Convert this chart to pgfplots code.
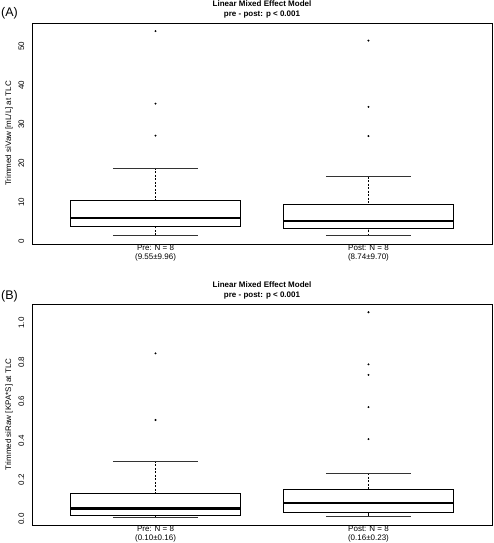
\documentclass[border=0pt]{standalone}
\usepackage{fontspec}
\setmainfont{Liberation Sans}
\usepackage{pgfplots}
\pgfplotsset{compat=1.18}
\usepgfplotslibrary{statistics}
\pgfplotsset{
  boxplot/draw/lower whisker/.code={%
    \draw[black, line width=0.7pt, dash pattern=on 2pt off 1.5pt]
      (boxplot box cs:\pgfplotsboxplotvalue{lower whisker},0.5) --
      (boxplot box cs:\pgfplotsboxplotvalue{lower quartile},0.5);
    \draw[black!80, line width=0.8pt, solid]
      (boxplot whisker cs:\pgfplotsboxplotvalue{lower whisker},0) --
      (boxplot whisker cs:\pgfplotsboxplotvalue{lower whisker},1);
  },
  boxplot/draw/upper whisker/.code={%
    \draw[black, line width=0.7pt, dash pattern=on 2pt off 1.5pt]
      (boxplot box cs:\pgfplotsboxplotvalue{upper whisker},0.5) --
      (boxplot box cs:\pgfplotsboxplotvalue{upper quartile},0.5);
    \draw[black!80, line width=0.8pt, solid]
      (boxplot whisker cs:\pgfplotsboxplotvalue{upper whisker},0) --
      (boxplot whisker cs:\pgfplotsboxplotvalue{upper whisker},1);
  },
  rbox/.style={
    scale only axis, width=460pt, height=221pt, anchor=south west,
    xmin=0.42, xmax=2.58,
    xtick={1,2}, major tick length=0pt,
    ytick pos=left, xtick pos=bottom,
    axis line style={line width=0.8pt},
    tick label style={font=\fontsize{8}{9}\selectfont},
    /pgf/number format/assume math mode=true,
    yticklabel style={rotate=90, anchor=south, inner sep=0pt},
    yticklabel shift=7.7pt,
    xticklabel style={align=center, anchor=north, inner sep=0pt},
    xticklabel shift=1pt,
    boxplot/draw direction=y,
    boxplot/every median/.style={line width=2.2pt},
    clip=false,
  },
  rplot/.style={black, line width=0.8pt, mark=*, mark size=0.75pt,
    mark options={solid, fill=black, line width=0.4pt}},
}
\begin{document}
\begin{tikzpicture}
\path[use as bounding box] (0pt,0pt) rectangle (494pt,-543pt);
% Panel A
\begin{axis}[rbox, at={(32pt,-244pt)},
  ymin=-0.7, ymax=56.0, ytick={0,10,20,30,40,50},
  xticklabels={{Pre: N = 8\\(9.55±9.96)},{Post: N = 8\\(8.74±9.70)}}]
\addplot+[rplot, boxplot prepared={draw direction=y, draw position=1, lower whisker=1.5,
  lower quartile=3.9, median=5.95, upper quartile=10.5, upper whisker=18.8,
  box extend=0.8, whisker extend=0.4}]
  table[row sep=\\, y index=0] {53.9\\ 35.3\\ 27.1\\};
\addplot+[rplot, boxplot prepared={draw direction=y, draw position=2, lower whisker=1.4,
  lower quartile=3.2, median=5.26, upper quartile=9.55, upper whisker=16.6,
  box extend=0.8, whisker extend=0.4}]
  table[row sep=\\, y index=0] {51.5\\ 34.5\\ 27.0\\};
\end{axis}
% Panel B
\begin{axis}[rbox, at={(32pt,-525pt)},
  ymin=-0.031, ymax=1.097, ytick={0,0.2,0.4,0.6,0.8,1.0},
  yticklabel style={/pgf/number format/.cd, fixed, fixed zerofill, precision=1},
  xticklabels={{Pre: N = 8\\(0.10±0.16)},{Post: N = 8\\(0.16±0.23)}}]
\addplot+[rplot, boxplot prepared={draw direction=y, draw position=1, lower whisker=0.010,
  lower quartile=0.020, median=0.053, upper quartile=0.129, upper whisker=0.296,
  box extend=0.8, whisker extend=0.4}]
  table[row sep=\\, y index=0] {0.845\\ 0.505\\};
\addplot+[rplot, boxplot prepared={draw direction=y, draw position=2, lower whisker=0.014,
  lower quartile=0.032, median=0.080, upper quartile=0.152, upper whisker=0.233,
  box extend=0.8, whisker extend=0.4}]
  table[row sep=\\, y index=0] {1.055\\ 0.789\\ 0.735\\ 0.571\\ 0.407\\};
\end{axis}
% Texts
\node[anchor=base west, inner sep=0pt, font=\fontsize{12.5}{14}\selectfont] at (1pt,-17pt) {(A)};
\node[anchor=base, inner sep=0pt, font=\bfseries\fontsize{8}{10}\selectfont] at (262pt,-6.7pt) {Linear Mixed Effect Model};
\node[anchor=base, inner sep=0pt, font=\bfseries\fontsize{8}{10}\selectfont] at (262pt,-16.7pt) {pre - post: p < 0.001};
\node[rotate=90, anchor=base, inner sep=0pt, font=\fontsize{8}{9}\selectfont] at (11pt,-133.5pt) {Trimmed siVaw [mL/L] at TLC};
\node[anchor=base west, inner sep=0pt, font=\fontsize{12.5}{14}\selectfont] at (1pt,-299pt) {(B)};
\node[anchor=base, inner sep=0pt, font=\bfseries\fontsize{8}{10}\selectfont] at (262pt,-287.7pt) {Linear Mixed Effect Model};
\node[anchor=base, inner sep=0pt, font=\bfseries\fontsize{8}{10}\selectfont] at (262pt,-297.7pt) {pre - post: p < 0.001};
\node[rotate=90, anchor=base, inner sep=0pt, font=\fontsize{8}{9}\selectfont] at (11pt,-414.5pt) {Trimmed siRaw [KPA*S] at TLC};
\end{tikzpicture}
\end{document}
